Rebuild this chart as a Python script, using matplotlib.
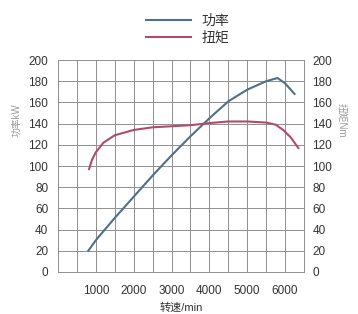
import numpy as np
import matplotlib.pyplot as plt

plt.rcParams['font.family'] = ['Liberation Sans', 'Noto Sans CJK SC', 'DejaVu Sans']

# 功率 (kW)
rpm_p = [800, 1000, 1500, 2000, 2500, 3000, 3500, 4000, 4500, 5000, 5500, 5800, 6000, 6250]
power = [20, 30, 51, 71, 91, 110, 128, 145, 161, 172, 180, 183, 178, 168]

# 扭矩 (Nm)
rpm_t = [820, 900, 1000, 1200, 1500, 2000, 2500, 3000, 3500, 4000, 4500, 5000, 5500, 5750, 5950, 6150, 6350]
torque = [97, 106, 113, 122, 129, 134, 136.5, 137.5, 138.5, 140.5, 142, 142, 141, 139, 134, 127, 117]

x_ticks = [1000, 2000, 3000, 4000, 5000, 6000]
y_ticks = list(range(0, 201, 20))

c_power = '#4f7088'
c_torque = '#b24a6c'
c_text = '#333333'

fig = plt.figure(figsize=(3.58, 3.14), dpi=100)
ax = fig.add_axes([58 / 358, 1 - 272 / 314, 246 / 358, 212 / 314])

ax.plot(rpm_p, power, color=c_power, lw=1.5, label='功率')
ax.plot(rpm_t, torque, color=c_torque, lw=1.5, label='扭矩')

ax.set_xlim(0, 6500)
ax.set_ylim(0, 200)
ax.set_xticks(np.arange(0, 6501, 500), minor=True)
ax.set_xticks(x_ticks)
ax.set_yticks(y_ticks)
ax.grid(True, which='both', color='#8f8f8f', lw=0.7)
ax.tick_params(which='both', length=0, labelsize=8.5, labelcolor=c_text)
ax.tick_params(axis='y', pad=7)
ax.tick_params(axis='x', pad=9)
for s in ax.spines.values():
    s.set_color('#8f8f8f')
    s.set_linewidth(0.7)
ax.spines['top'].set_visible(False)

ax2 = ax.twinx()
ax2.set_ylim(0, 200)
ax2.set_yticks(y_ticks)
ax2.tick_params(length=0, labelsize=8.5, labelcolor=c_text, pad=6)
for s in ax2.spines.values():
    s.set_visible(False)

ax.set_xlabel('转速/min', fontsize=8, color=c_text, labelpad=4)

fig.text(17 / 358, 1 - 120 / 314, '功率kW', rotation=90, fontsize=7, color='#999999',
         ha='center', va='center')
fig.text(342 / 358, 1 - 120 / 314, '扭矩Nm', rotation=-90, fontsize=7, color='#999999',
         ha='center', va='center')

fig.legend(loc='center', bbox_to_anchor=(188 / 358, 1 - 29 / 314), frameon=False,
           fontsize=10, handlelength=3.2, labelspacing=0.2, handletextpad=0.8,
           labelcolor=c_text)

fig.savefig('out.png', dpi=100)
